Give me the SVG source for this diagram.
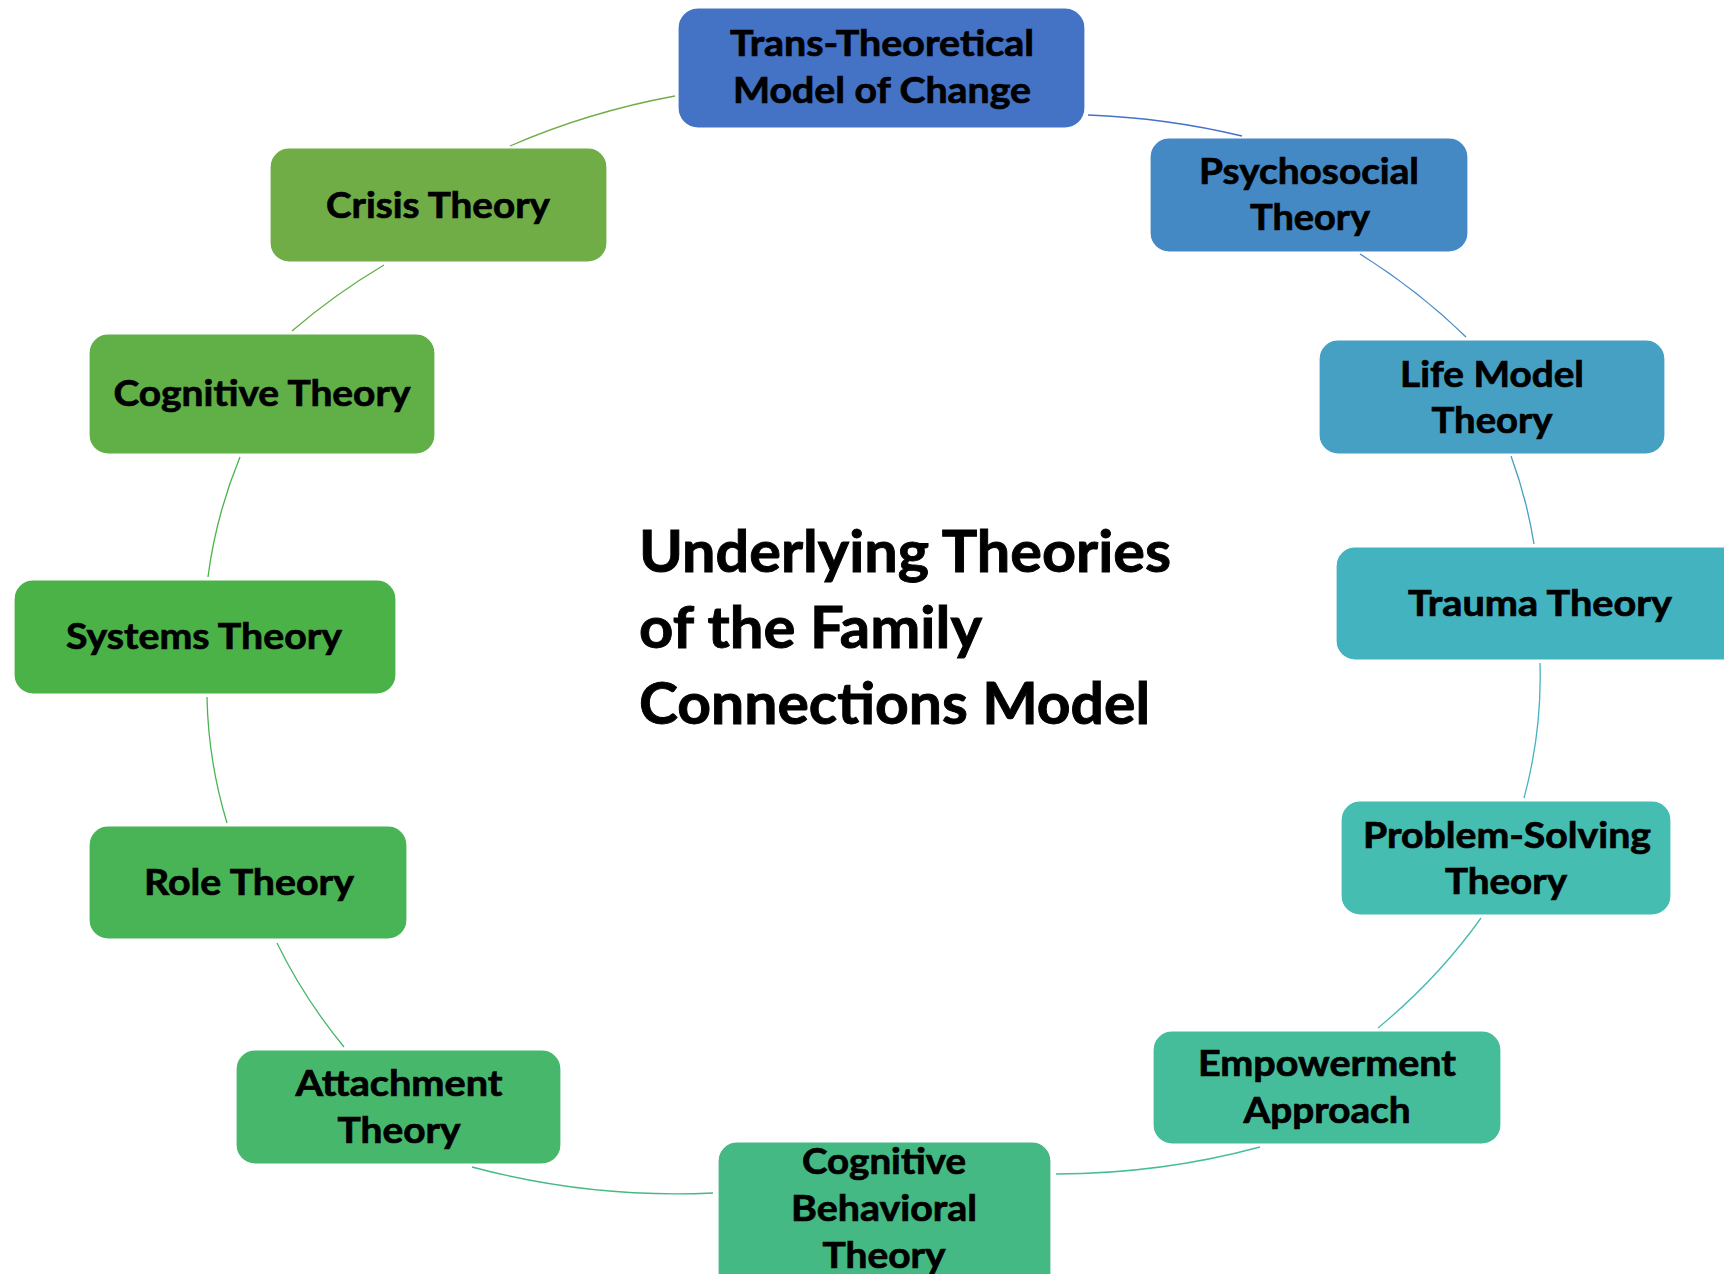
<svg xmlns="http://www.w3.org/2000/svg" width="1724" height="1274" viewBox="0 0 1724 1274">
<style>
.box{stroke:#ffffff;stroke-width:1.2}
.lbl{font-family:Lato,"Liberation Sans",sans-serif;font-weight:700;font-size:36px;fill:#000;stroke:#000;stroke-width:0.7;text-anchor:middle}
.title{font-family:Lato,"Liberation Sans",sans-serif;font-weight:700;font-size:57px;fill:#000;stroke:#000;stroke-width:0.9}
.con{fill:none;stroke-width:1.3}
</style>
<rect width="1724" height="1274" fill="#ffffff"/>
<g id="connectors">
<path class="con" stroke="#4472C4" d="M1088,115 A665,552 0 0 1 1242,136"/>
<path class="con" stroke="#4589C4" d="M1360,254 A665,552 0 0 1 1466,337"/>
<path class="con" stroke="#46A0C3" d="M1511,456 A665,552 0 0 1 1534,544"/>
<path class="con" stroke="#43B3BF" d="M1540,663 A665,552 0 0 1 1524,798"/>
<path class="con" stroke="#45BDB0" d="M1481,918 A665,552 0 0 1 1378,1028"/>
<path class="con" stroke="#45BD9A" d="M1260,1147 A665,552 0 0 1 1056,1174"/>
<path class="con" stroke="#45B983" d="M713,1193 A665,552 0 0 1 472,1167"/>
<path class="con" stroke="#47B76C" d="M344,1047 A665,552 0 0 1 277,943"/>
<path class="con" stroke="#48B456" d="M227,823 A665,552 0 0 1 207,697"/>
<path class="con" stroke="#4BB247" d="M208,577 A665,552 0 0 1 240,457"/>
<path class="con" stroke="#60AF47" d="M292,331 A665,552 0 0 1 384,265"/>
<path class="con" stroke="#70AD47" d="M510,146 A665,552 0 0 1 675,96"/>
</g>
<g id="node-trans">
<rect class="box" x="678" y="8" width="407" height="120" rx="20" fill="#4472C4"/>
<text class="lbl" x="882" y="56" textLength="304" lengthAdjust="spacingAndGlyphs">Trans-Theoretical</text>
<text class="lbl" x="882" y="103" textLength="298" lengthAdjust="spacingAndGlyphs">Model of Change</text>
</g>
<g id="node-psychosocial">
<rect class="box" x="1150" y="138" width="318" height="114" rx="19" fill="#4589C4"/>
<text class="lbl" x="1309" y="184" textLength="220" lengthAdjust="spacingAndGlyphs">Psychosocial</text>
<text class="lbl" x="1310" y="230" textLength="120" lengthAdjust="spacingAndGlyphs">Theory</text>
</g>
<g id="node-lifemodel">
<rect class="box" x="1319" y="340" width="346" height="114" rx="19" fill="#46A0C3"/>
<text class="lbl" x="1492" y="387" textLength="184" lengthAdjust="spacingAndGlyphs">Life Model</text>
<text class="lbl" x="1492" y="433" textLength="121" lengthAdjust="spacingAndGlyphs">Theory</text>
</g>
<g id="node-trauma">
<rect class="box" x="1336" y="547" width="420" height="113" rx="19" fill="#43B3BF"/>
<text class="lbl" x="1540" y="616" textLength="264" lengthAdjust="spacingAndGlyphs">Trauma Theory</text>
</g>
<g id="node-problemsolving">
<rect class="box" x="1341" y="801" width="330" height="114" rx="19" fill="#45BDB0"/>
<text class="lbl" x="1507" y="848" textLength="288" lengthAdjust="spacingAndGlyphs">Problem-Solving</text>
<text class="lbl" x="1506" y="894" textLength="122" lengthAdjust="spacingAndGlyphs">Theory</text>
</g>
<g id="node-empowerment">
<rect class="box" x="1153" y="1031" width="348" height="113" rx="19" fill="#45BD9A"/>
<text class="lbl" x="1327" y="1076" textLength="258" lengthAdjust="spacingAndGlyphs">Empowerment</text>
<text class="lbl" x="1327" y="1123" textLength="167" lengthAdjust="spacingAndGlyphs">Approach</text>
</g>
<g id="node-cbt">
<rect class="box" x="718" y="1142" width="333" height="150" rx="19" fill="#45B983"/>
<text class="lbl" x="884" y="1174" textLength="164" lengthAdjust="spacingAndGlyphs">Cognitive</text>
<text class="lbl" x="884" y="1221" textLength="186" lengthAdjust="spacingAndGlyphs">Behavioral</text>
<text class="lbl" x="884" y="1268" textLength="123" lengthAdjust="spacingAndGlyphs">Theory</text>
</g>
<g id="node-attachment">
<rect class="box" x="236" y="1050" width="325" height="114" rx="19" fill="#47B76C"/>
<text class="lbl" x="399" y="1096" textLength="207" lengthAdjust="spacingAndGlyphs">Attachment</text>
<text class="lbl" x="399" y="1143" textLength="123" lengthAdjust="spacingAndGlyphs">Theory</text>
</g>
<g id="node-role">
<rect class="box" x="89" y="826" width="318" height="113" rx="19" fill="#48B456"/>
<text class="lbl" x="249" y="895" textLength="210" lengthAdjust="spacingAndGlyphs">Role Theory</text>
</g>
<g id="node-systems">
<rect class="box" x="14" y="580" width="382" height="114" rx="19" fill="#4BB247"/>
<text class="lbl" x="204" y="649" textLength="276" lengthAdjust="spacingAndGlyphs">Systems Theory</text>
</g>
<g id="node-cognitive">
<rect class="box" x="89" y="334" width="346" height="120" rx="19" fill="#60AF47"/>
<text class="lbl" x="262" y="406" textLength="297" lengthAdjust="spacingAndGlyphs">Cognitive Theory</text>
</g>
<g id="node-crisis">
<rect class="box" x="270" y="148" width="337" height="114" rx="19" fill="#70AD47"/>
<text class="lbl" x="438" y="218" textLength="224" lengthAdjust="spacingAndGlyphs">Crisis Theory</text>
</g>
<g id="title">
<text class="title" x="639" y="572" textLength="532" lengthAdjust="spacingAndGlyphs">Underlying Theories</text>
<text class="title" x="639" y="648" textLength="343" lengthAdjust="spacingAndGlyphs">of the Family</text>
<text class="title" x="639" y="724" textLength="511" lengthAdjust="spacingAndGlyphs">Connections Model</text>
</g>
</svg>
